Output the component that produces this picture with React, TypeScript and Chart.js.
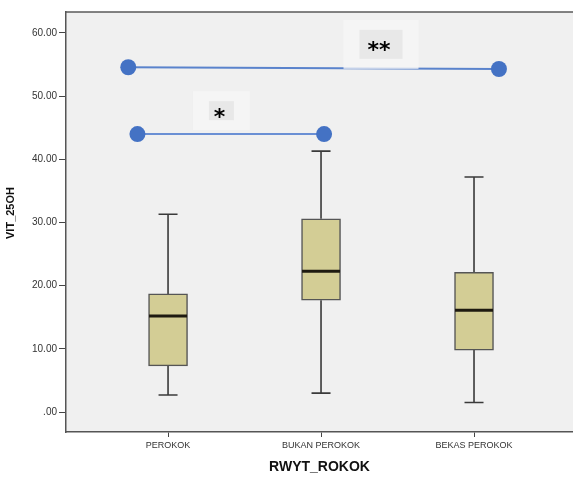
import React, { useEffect, useRef } from "react";
import { Chart, registerables } from "chart.js";

Chart.register(...registerables);

const categories = ["PEROKOK", "BUKAN PEROKOK", "BEKAS PEROKOK"];
const whiskerLow = [2.7, 3.0, 1.5];
const q1 = [7.3, 17.7, 9.8];
const median = [15.2, 22.3, 16.1];
const q3 = [18.7, 30.6, 22.1];
const whiskerHigh = [31.3, 41.3, 37.2];
const yTicks = [0, 10, 20, 30, 40, 50, 60];

// significance brackets
const sigLabels = ["**", "*"];
const sigFromX = [-0.26, -0.2];
const sigFromY = [54.57, 44.0];
const sigToX = [2.163, 1.02];
const sigToY = [54.3, 44.0];
const sigLabelX = [1.392, 0.349];
const sigLabelY = [58.2, 47.7];

const FONT = "'Liberation Sans', Arial, sans-serif";

export default function App() {
  const ref = useRef<HTMLCanvasElement | null>(null);

  useEffect(() => {
    document.body.style.margin = "0";
    const canvas = ref.current;
    if (!canvas) return;

    const bgPlugin = {
      id: "bgPlugin",
      beforeDraw(chart: any) {
        const { ctx, chartArea } = chart;
        ctx.save();
        ctx.fillStyle = "#ffffff";
        ctx.fillRect(0, 0, chart.width, chart.height);
        ctx.fillStyle = "#f0f0f0";
        ctx.fillRect(chartArea.left, chartArea.top, chartArea.right - chartArea.left, chartArea.bottom - chartArea.top);
        ctx.strokeStyle = "#5a5a5a";
        ctx.lineWidth = 1.5;
        ctx.beginPath();
        ctx.moveTo(chartArea.left, chartArea.top);
        ctx.lineTo(chartArea.right, chartArea.top);
        ctx.stroke();
        ctx.restore();
      },
    };

    const boxPlugin = {
      id: "boxPlugin",
      beforeDatasetsDraw(chart: any) {
        const { ctx } = chart;
        const xs = chart.scales.x;
        const ys = chart.scales.y;
        ctx.save();
        ctx.strokeStyle = "#3a3a3a";
        ctx.lineWidth = 1.6;
        categories.forEach((_, i) => {
          const x = xs.getPixelForValue(i);
          const lo = ys.getPixelForValue(whiskerLow[i]);
          const hi = ys.getPixelForValue(whiskerHigh[i]);
          const a = ys.getPixelForValue(q1[i]);
          const b = ys.getPixelForValue(q3[i]);
          ctx.beginPath();
          ctx.moveTo(x, b);
          ctx.lineTo(x, hi);
          ctx.moveTo(x, a);
          ctx.lineTo(x, lo);
          ctx.moveTo(x - 9.5, hi);
          ctx.lineTo(x + 9.5, hi);
          ctx.moveTo(x - 9.5, lo);
          ctx.lineTo(x + 9.5, lo);
          ctx.stroke();
        });
        ctx.restore();
      },
      afterDatasetsDraw(chart: any) {
        const { ctx } = chart;
        const xs = chart.scales.x;
        const ys = chart.scales.y;
        ctx.save();
        ctx.strokeStyle = "#1e1a10";
        ctx.lineWidth = 3;
        categories.forEach((_, i) => {
          const x = xs.getPixelForValue(i);
          const m = ys.getPixelForValue(median[i]);
          ctx.beginPath();
          ctx.moveTo(x - 19, m);
          ctx.lineTo(x + 19, m);
          ctx.stroke();
        });
        // significance labels
        sigLabels.forEach((lab, i) => {
          const cx = xs.getPixelForValue(sigLabelX[i]);
          const cy = ys.getPixelForValue(sigLabelY[i]);
          const ow = lab.length === 2 ? 75 : 57;
          const oh = lab.length === 2 ? 49 : 39;
          const iw = lab.length === 2 ? 43 : 25;
          const ih = lab.length === 2 ? 29 : 19;
          ctx.fillStyle = "rgba(246,246,246,0.8)";
          ctx.fillRect(cx - ow / 2, cy - oh / 2, ow, oh);
          ctx.fillStyle = "#e8e8e8";
          ctx.fillRect(cx - iw / 2, cy - ih / 2, iw, ih);
          ctx.fillStyle = "#000";
          ctx.font = "bold 22px 'DejaVu Sans', sans-serif";
          ctx.textAlign = "center";
          ctx.textBaseline = "alphabetic";
          ctx.fillText(lab, cx - 2, cy + 13);
        });
        ctx.restore();
      },
    };

    const yTitlePlugin = {
      id: "yTitlePlugin",
      afterDraw(chart: any) {
        const { ctx } = chart;
        ctx.save();
        ctx.translate(11, 213);
        ctx.rotate(-Math.PI / 2);
        ctx.font = `bold 11px ${FONT}`;
        ctx.fillStyle = "#111";
        ctx.textAlign = "center";
        ctx.textBaseline = "middle";
        ctx.fillText("VIT_25OH", 0, 0);
        ctx.restore();
      },
    };

    const chart = new Chart(canvas, {
      type: "bar",
      data: {
        datasets: [
          {
            type: "line",
            data: [
              { x: sigFromX[0], y: sigFromY[0] },
              { x: sigToX[0], y: sigToY[0] },
            ],
            borderColor: "#5a83cc",
            borderWidth: 2,
            pointRadius: 8,
            pointBackgroundColor: "#4472c4",
            pointBorderWidth: 0,
          } as any,
          {
            type: "line",
            data: [
              { x: sigFromX[1], y: sigFromY[1] },
              { x: sigToX[1], y: sigToY[1] },
            ],
            borderColor: "#6a8fd4",
            borderWidth: 2,
            pointRadius: 8,
            pointBackgroundColor: "#4472c4",
            pointBorderWidth: 0,
          } as any,
          {
            type: "bar",
            data: categories.map((_, i) => ({ x: i, y: [q1[i], q3[i]] })),
            backgroundColor: "#d3cd95",
            borderColor: "#555",
            borderWidth: 1.5,
            borderSkipped: false,
            barThickness: 39,
          } as any,
        ],
      },
      options: {
        responsive: false,
        animation: false,
        layout: { autoPadding: false, padding: { top: 12, left: 0, right: 0, bottom: 0 } },
        plugins: {
          legend: { display: false },
          tooltip: { enabled: false },
        },
        scales: {
          x: {
            type: "linear",
            min: -0.667,
            max: 2.647,
            offset: false,
            afterBuildTicks: (s: any) => {
              s.ticks = categories.map((_, i) => ({ value: i }));
            },
            afterFit: (s: any) => {
              s.height = 49;
            },
            grid: {
              display: true,
              offset: false,
              drawOnChartArea: false,
              drawTicks: true,
              tickLength: 5,
              tickColor: "#444",
              lineWidth: 1,
            },
            border: { display: true, color: "#555", width: 1.5 },
            ticks: {
              autoSkip: false,
              maxRotation: 0,
              padding: 3,
              color: "#333",
              font: { family: FONT, size: 9 },
              callback: (v: any) => categories[v] ?? "",
            },
            title: {
              display: true,
              text: "RWYT_ROKOK",
              color: "#111",
              font: { family: FONT, size: 14, weight: "bold" },
              padding: { top: 0, bottom: 5 },
            },
          },
          y: {
            type: "linear",
            min: -3.16,
            max: 63.32,
            afterBuildTicks: (s: any) => {
              s.ticks = yTicks.map((v) => ({ value: v }));
            },
            afterFit: (s: any) => {
              s.width = 66;
            },
            grid: {
              display: true,
              drawOnChartArea: false,
              drawTicks: true,
              tickLength: 7,
              tickColor: "#444",
              lineWidth: 1,
            },
            border: { display: true, color: "#555", width: 1.5 },
            ticks: {
              padding: 2,
              color: "#333",
              font: { family: FONT, size: 10 },
              callback: (v: any) => (v === 0 ? ".00" : Number(v).toFixed(2)),
            },
          },
        },
      } as any,
      plugins: [bgPlugin, boxPlugin, yTitlePlugin],
    });

    return () => chart.destroy();
  }, []);

  return (
    <div style={{ width: 573, height: 481 }}>
      <canvas ref={ref} width={573} height={481} style={{ display: "block" }} />
    </div>
  );
}
